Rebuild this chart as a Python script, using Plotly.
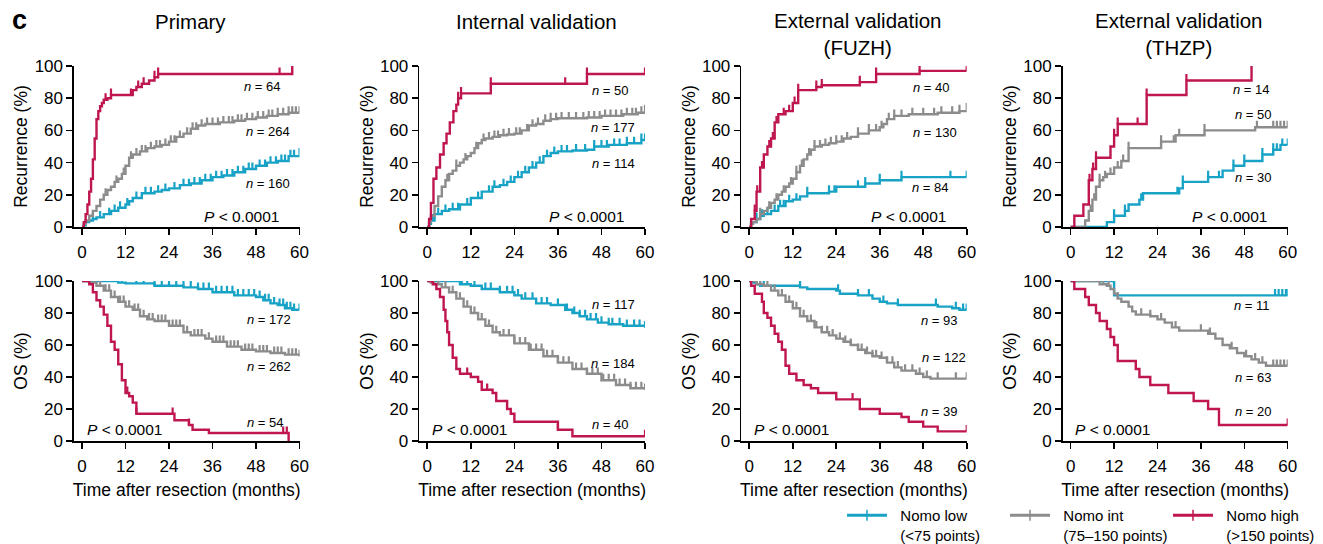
import numpy as np
import plotly.graph_objects as go

# ---------------------------------------------------------------- data
MONTH_TICKS = [0, 12, 24, 36, 48, 60]
PCT_TICKS = [0, 20, 40, 60, 80, 100]
PANEL_TITLES = ["Primary", "Internal validation",
                "External validation<br>(FUZH)", "External validation<br>(THZP)"]
GROUP_NAMES = ["Nomo low<br>(&lt;75 points)", "Nomo int<br>(75\u2013150 points)",
               "Nomo high<br>(&gt;150 points)"]
ROW_TITLES = ["Recurrence (%)", "OS (%)"]
P_TEXT = "<i>P</i> &lt; 0.0001"

# ---- Recurrence, Primary
REC_PRI_LOW_T = [0, 0.5, 1, 2, 3, 4, 6, 8, 10, 12, 13, 14, 16.5, 20, 22, 24, 27, 30, 33, 36, 39, 42, 45, 48, 51, 54, 57, 60]
REC_PRI_LOW_Y = [0, 1, 3, 4, 5, 6, 8, 10, 12, 14, 16, 18, 21, 22, 23, 24, 26, 27, 29, 31, 32, 34, 36, 38, 40, 41, 44, 45]
REC_PRI_LOW_C = [3, 5, 7.5, 9, 10.5, 12.5, 15, 17.5, 19, 21, 23, 25.5, 28, 29.5, 31, 32.5, 34, 35.5, 37, 38.5, 40,
                 41.5, 43, 44.5, 46, 47, 49, 50.5, 52, 53.5, 55, 56, 57.5, 58.5, 60]
REC_PRI_INT_T = [0, 0.5, 1, 2, 3, 4, 5, 6, 7, 8, 9, 10, 11, 12, 13, 14, 16, 18, 20, 22, 24, 26, 28, 30, 32, 34, 38, 42, 45, 48, 51, 54, 57, 60]
REC_PRI_INT_Y = [0, 2, 4, 7, 10, 13, 17, 20, 23, 25, 28, 30, 33, 38, 43, 45, 47, 49, 50, 51, 53, 56, 58, 61, 63, 64, 65, 66, 67, 68, 69, 70, 71, 71]
REC_PRI_INT_C = [6.5, 9.5, 11.5, 13.5, 15, 16.5, 17.5, 19, 20.5, 21.5, 23, 24.5, 25.5, 27, 29, 30.5, 31.5, 33, 34.5,
                 36, 37.5, 39, 40.5, 41.5, 43, 44, 45.5, 47, 48.5, 50, 51.5, 52.5, 54, 55.5, 57, 58, 59, 60]
REC_PRI_HIGH_T = [0, 0.5, 1, 1.5, 2, 2.5, 3, 3.5, 4, 4.5, 5, 5.5, 6, 7, 8, 14, 15, 16.5, 18.5, 20, 21, 58]
REC_PRI_HIGH_Y = [0, 3, 8, 14, 22, 30, 42, 55, 67, 72, 75, 77, 79, 80, 82, 85, 87, 89, 91, 93, 95, 100]
REC_PRI_HIGH_C = [6.5, 8, 13.5, 15.5, 17, 20, 21, 54.5, 58]

# ---- Recurrence, Internal validation
REC_INT_LOW_T = [0, 0.5, 1, 2, 4, 6, 9, 12, 15, 18, 20, 22, 24, 26, 28, 30, 32, 34, 36, 40, 44, 46, 50, 55, 59, 60]
REC_INT_LOW_Y = [0, 2, 4, 8, 10, 11, 14, 18, 22, 25, 26, 28, 31, 34, 37, 40, 44, 46, 47, 47.5, 48, 50, 51, 52, 54, 54]
REC_INT_LOW_C = [1.5, 3, 5, 7, 8.5, 11, 14, 17, 18.5, 21, 23, 25, 27, 29, 31, 33, 35, 37, 38.5, 41, 43.5, 46, 48,
                 49.5, 51.5, 53, 55, 57, 59, 60]
REC_INT_INT_T = [0, 0.5, 1, 2, 3, 4, 5, 6, 7, 8, 9, 10, 11, 12, 13, 14, 15, 16, 18, 20, 22, 24, 26, 28, 30, 32, 34, 36, 44, 48, 54, 58, 60]
REC_INT_INT_Y = [0, 3, 7, 13, 19, 25, 29, 33, 35, 38, 40, 42, 44, 46, 49, 52, 54, 55, 56, 57, 57.5, 58, 60, 63, 64, 66, 67, 67.5, 68, 69, 70, 71, 72]
REC_INT_INT_C = [5.5, 8, 10.5, 13.5, 15.5, 17, 18.5, 19.5, 21, 22.5, 24.5, 25.5, 27.5, 29, 30.5, 32.5, 34, 35.5, 37,
                 39, 41, 43, 44.5, 46, 47.5, 49, 50.5, 52, 53.5, 55, 56.5, 57.5, 59, 60]
REC_INT_HIGH_T = [0, 0.5, 1, 1.7, 2.5, 3.5, 4.5, 5.3, 6.2, 7.2, 8, 8.5, 9.3, 17.5, 44, 60]
REC_INT_HIGH_Y = [0, 5, 15, 30, 37, 45, 52, 58, 65, 72, 76, 80, 83, 89, 95, 95]
REC_INT_HIGH_C = [8.5, 9.3, 17.5, 38, 44, 60]

# ---- Recurrence, External validation (FUZH)
REC_FUZ_LOW_T = [0, 0.5, 1, 2, 3, 4, 6, 8, 10, 12, 14, 16, 22, 24, 32, 36, 42, 60]
REC_FUZ_LOW_Y = [0, 2, 3, 5, 7, 8, 10, 13, 16, 17, 19, 21, 22, 25, 27, 29, 31, 31]
REC_FUZ_LOW_C = [2, 3.5, 5, 7, 8.5, 9.5, 11, 13, 16, 22, 23.5, 30, 32, 36, 42, 55.5, 60]
REC_FUZ_INT_T = [0, 0.5, 1, 2, 3, 4, 5, 6, 7, 8, 9, 10, 11, 12, 13, 14, 15, 16, 17, 18, 20, 22, 24, 26, 28, 30, 33, 36, 37, 38, 40, 44, 52, 58, 60]
REC_FUZ_INT_Y = [0, 2, 3, 5, 8, 10, 12, 15, 17, 20, 22, 25, 27, 30, 34, 38, 42, 45, 48, 50, 51, 52, 53, 55, 56, 58, 60, 62, 64, 67, 69, 70, 71, 72, 73]
REC_FUZ_INT_C = [3, 5.5, 7.5, 9.5, 11.5, 13, 14.5, 16.5, 18, 19.5, 21, 22.5, 24, 25.5, 27, 30, 33, 35, 36.5, 38.5,
                 40, 42, 45, 48, 51, 53, 56, 58, 60]
REC_FUZ_HIGH_T = [0, 0.5, 1.5, 2, 3, 4, 5, 6, 7, 8, 10, 12, 13.5, 18.5, 20, 30.5, 35, 47, 60]
REC_FUZ_HIGH_Y = [0, 5, 10, 22, 37, 45, 50, 55, 65, 70, 72, 77, 85, 87, 88, 90, 95, 97, 97]
REC_FUZ_HIGH_C = [1.5, 2.2, 3.5, 5.5, 6.5, 7.5, 9.5, 11, 12.5, 13.5, 18.5, 20, 30.5, 35, 47, 60]

# ---- Recurrence, External validation (THZP)
REC_THZ_LOW_T = [0, 10, 12, 15, 16, 19, 20, 30, 31, 38, 42, 45, 48, 53, 56, 58, 60]
REC_THZ_LOW_Y = [0, 3, 7, 10, 14, 17, 21, 24, 28, 31, 35, 38, 41, 45, 48, 51, 51]
REC_THZ_LOW_C = [12, 15, 19.5, 29.5, 31, 38, 41, 45, 48, 53, 56, 57, 58.5, 60]
REC_THZ_INT_T = [0, 4, 5, 6, 7, 8, 9, 10, 12, 14, 16, 25, 29, 37, 51, 60]
REC_THZ_INT_Y = [0, 4, 10, 17, 25, 29, 31, 33, 37, 41, 49, 53, 57, 60, 62, 62]
REC_THZ_INT_C = [5.5, 6.5, 8, 9.5, 11, 13, 14.5, 16, 25, 28.5, 30, 37, 51.5, 56, 57, 58, 59, 60]
REC_THZ_HIGH_T = [0, 1, 3.5, 5, 6, 7, 11, 12, 13, 21, 32, 50]
REC_THZ_HIGH_Y = [0, 7, 14, 29, 36, 43, 50, 57, 64, 82, 91, 100]
REC_THZ_HIGH_C = [5.2, 6.2, 7, 12, 13, 18.5, 21, 32, 50]

# ---- OS, Primary
OS_PRI_LOW_T = [0, 10, 12, 20, 28, 32, 36, 42, 48, 50, 52, 54, 56, 58, 60]
OS_PRI_LOW_Y = [100, 99, 98.5, 97, 96, 95, 93, 91, 90, 88, 86, 85, 83, 82, 82]
OS_PRI_LOW_C = [1, 2, 3, 4, 6, 8, 11, 15, 17, 20, 22, 24, 26, 28, 30, 32, 33.5, 35, 37, 38.5, 40, 41.5, 43, 44.5,
                46, 47.5, 49, 50.5, 51.5, 53, 54.5, 55.5, 56.5, 57.5, 58.5, 60]
OS_PRI_INT_T = [0, 2, 4, 6, 8, 10, 12, 14, 16, 18, 20, 24, 28, 30, 34, 36, 40, 44, 48, 52, 56, 60]
OS_PRI_INT_Y = [100, 99, 97, 94, 90, 87, 84, 82, 78, 76, 75, 72, 68, 66, 64, 62, 59, 57, 56, 55, 54, 53]
OS_PRI_INT_C = [1, 1.5, 2.5, 3.5, 5, 6.5, 7.5, 9, 10.5, 11.5, 13, 14.5, 15.5, 17, 18.5, 19.5, 21, 22, 23, 25, 26,
                27, 29, 31, 32, 33, 35, 37, 38, 39, 41, 42, 43, 45, 46, 47, 49, 50, 51, 53, 54, 55, 57, 58, 59, 60]
OS_PRI_HIGH_T = [0, 2, 3, 4, 5, 6, 7, 8, 9, 10, 11, 12, 13, 14, 15, 25.5, 29.5, 30.5, 35, 57]
OS_PRI_HIGH_Y = [100, 98, 93, 88, 84, 79, 72, 62, 57, 48, 38, 30, 28, 24, 17, 13, 10, 7, 5, 0]
OS_PRI_HIGH_C = [12.5, 15, 25, 29.5, 55.5, 56.5]

# ---- OS, Internal validation
OS_INT_LOW_T = [0, 9, 12, 15, 20, 24, 26, 30, 34, 38, 40, 42, 44, 47, 50, 54, 60]
OS_INT_LOW_Y = [100, 98, 97, 95, 93, 91, 89, 86, 85, 82, 80, 78, 76, 74, 73, 72, 71]
OS_INT_LOW_C = [4.5, 8.5, 9.5, 11, 13, 16, 17.5, 20, 22, 23.5, 25, 27, 29, 31.5, 33, 36, 38.5, 40.5, 42, 43.5, 45,
                46.5, 48, 50, 51, 53, 55, 57, 58.5, 60]
OS_INT_INT_T = [0, 1, 2, 4, 6, 8, 10, 12, 14, 16, 18, 20, 24, 28, 32, 36, 40, 44, 48, 52, 56, 60]
OS_INT_INT_Y = [100, 99, 98, 96, 93, 89, 84, 80, 76, 72, 68, 66, 61, 57, 53, 49, 45, 42, 38, 35, 33, 32]
OS_INT_INT_C = [0.5, 1, 1.5, 3, 5, 7, 9, 11, 13, 15, 17, 19, 21, 22.5, 24, 25.5, 27, 28.5, 30, 31.5, 33, 34.5, 36,
                37.5, 39, 41, 42.5, 44, 45.5, 47, 48.5, 50, 51.5, 53, 54.5, 56, 57.5, 59, 60]
OS_INT_HIGH_T = [0, 1.5, 2.5, 3.5, 4.5, 5, 5.5, 6, 7, 8, 9, 12, 14, 15, 18, 19, 22, 23, 24, 36, 40, 60]
OS_INT_HIGH_Y = [100, 98, 95, 90, 82, 75, 68, 60, 52, 45, 42, 40, 37, 32, 30, 25, 20, 17, 12, 7, 3, 3]
OS_INT_HIGH_C = [11, 16.5, 36, 60]

# ---- OS, External validation (FUZH)
OS_FUZ_LOW_T = [0, 1, 2, 3, 14, 16, 24, 25, 30, 34, 36, 38, 41, 52, 56, 58, 60]
OS_FUZ_LOW_Y = [100, 99, 98, 97, 96, 95, 94, 92, 91, 89, 87, 86, 85, 84, 83, 82, 82]
OS_FUZ_LOW_C = [1, 2, 3, 4, 14, 24.5, 30, 33, 37, 41, 51.5, 57, 59, 60]
OS_FUZ_INT_T = [0, 2, 4, 6, 8, 10, 12, 14, 16, 18, 20, 22, 24, 26, 28, 30, 32, 34, 36, 38, 40, 42, 46, 48, 50, 60]
OS_FUZ_INT_Y = [100, 98, 97, 94, 91, 87, 83, 78, 75, 71, 68, 66, 64, 62, 60, 57, 55, 53, 52, 49, 46, 44, 42, 40, 39, 39]
OS_FUZ_INT_C = [1, 2, 3, 5, 7, 9, 11, 13, 15, 17, 18.5, 20, 21.5, 23, 25, 26.5, 28, 30, 31, 32.5, 34, 35, 36.5,
                38, 39.5, 41, 43, 45, 47, 49, 52, 57, 60]
OS_FUZ_HIGH_T = [0, 0.5, 1.5, 3.5, 4, 5, 6, 7, 8, 9, 10, 11, 13, 15, 17, 19, 24, 30.5, 36, 42, 44, 48, 52, 60]
OS_FUZ_HIGH_Y = [100, 97, 92, 87, 80, 77, 72, 67, 62, 57, 47, 42, 38, 35, 33, 30, 26, 20, 17, 15, 12, 9, 6, 6]
OS_FUZ_HIGH_C = [28.5, 60]

# ---- OS, External validation (THZP)
OS_THZ_LOW_T = [0, 12, 60]
OS_THZ_LOW_Y = [100, 91, 91]
OS_THZ_LOW_C = [56.5, 57.5, 58.5, 59.5, 60]
OS_THZ_INT_T = [0, 8, 10, 11, 12, 13, 14, 16, 17, 18, 22, 24, 26, 28, 30, 38, 40, 42, 44, 46, 48, 50, 52, 54, 60]
OS_THZ_INT_Y = [100, 98, 97, 95, 92, 89, 87, 84, 81, 79, 78, 76, 74, 71, 69, 67, 64, 60, 58, 55, 53, 51, 49, 47, 47]
OS_THZ_INT_C = [6.5, 7.5, 9, 10.5, 13, 19.5, 22, 25, 29, 36, 38.5, 44.5, 48.5, 51, 53, 56, 57, 58, 59, 60]
OS_THZ_HIGH_T = [0, 1, 4, 5, 7, 8, 10, 11, 12, 13, 18, 19, 22, 27, 34, 38, 41, 60]
OS_THZ_HIGH_Y = [100, 95, 90, 85, 80, 75, 70, 65, 60, 50, 45, 40, 35, 30, 25, 20, 10, 10]
OS_THZ_HIGH_C = [60]

REC_N = [[160, 264, 64], [114, 177, 50], [84, 130, 40], [30, 50, 14]]
OS_N = [[172, 262, 54], [117, 184, 40], [93, 122, 39], [11, 63, 20]]

CURVES = [
    [  # recurrence row
        [(REC_PRI_LOW_T, REC_PRI_LOW_Y, REC_PRI_LOW_C), (REC_PRI_INT_T, REC_PRI_INT_Y, REC_PRI_INT_C),
         (REC_PRI_HIGH_T, REC_PRI_HIGH_Y, REC_PRI_HIGH_C)],
        [(REC_INT_LOW_T, REC_INT_LOW_Y, REC_INT_LOW_C), (REC_INT_INT_T, REC_INT_INT_Y, REC_INT_INT_C),
         (REC_INT_HIGH_T, REC_INT_HIGH_Y, REC_INT_HIGH_C)],
        [(REC_FUZ_LOW_T, REC_FUZ_LOW_Y, REC_FUZ_LOW_C), (REC_FUZ_INT_T, REC_FUZ_INT_Y, REC_FUZ_INT_C),
         (REC_FUZ_HIGH_T, REC_FUZ_HIGH_Y, REC_FUZ_HIGH_C)],
        [(REC_THZ_LOW_T, REC_THZ_LOW_Y, REC_THZ_LOW_C), (REC_THZ_INT_T, REC_THZ_INT_Y, REC_THZ_INT_C),
         (REC_THZ_HIGH_T, REC_THZ_HIGH_Y, REC_THZ_HIGH_C)],
    ],
    [  # OS row
        [(OS_PRI_LOW_T, OS_PRI_LOW_Y, OS_PRI_LOW_C), (OS_PRI_INT_T, OS_PRI_INT_Y, OS_PRI_INT_C),
         (OS_PRI_HIGH_T, OS_PRI_HIGH_Y, OS_PRI_HIGH_C)],
        [(OS_INT_LOW_T, OS_INT_LOW_Y, OS_INT_LOW_C), (OS_INT_INT_T, OS_INT_INT_Y, OS_INT_INT_C),
         (OS_INT_HIGH_T, OS_INT_HIGH_Y, OS_INT_HIGH_C)],
        [(OS_FUZ_LOW_T, OS_FUZ_LOW_Y, OS_FUZ_LOW_C), (OS_FUZ_INT_T, OS_FUZ_INT_Y, OS_FUZ_INT_C),
         (OS_FUZ_HIGH_T, OS_FUZ_HIGH_Y, OS_FUZ_HIGH_C)],
        [(OS_THZ_LOW_T, OS_THZ_LOW_Y, OS_THZ_LOW_C), (OS_THZ_INT_T, OS_THZ_INT_Y, OS_THZ_INT_C),
         (OS_THZ_HIGH_T, OS_THZ_HIGH_Y, OS_THZ_HIGH_C)],
    ],
]
N_LABELS = [REC_N, OS_N]

# ---------------------------------------------------------------- layout / style
W, H = 1323, 544
COLORS = ["#18A3C6", "#8C8C8C", "#BF1650"]
FONT = "Arial, Liberation Sans, sans-serif"
X0_PX = [82, 427.3, 749.3, 1070.7]        # pixel of month 0
X60_PX = [299.5, 645, 966.7, 1287.7]      # pixel of month 60
AXIS_GAP_PX = 8                            # y-axis line sits left of month 0
ROW_PX = [(66, 227), (281, 441)]           # (top=100%, bottom=0%)
# n-label positions (month, %) per row / panel / group
N_POS = [
    [[(51.2, 27), (51.2, 59.6), (49.8, 87)], [(51.3, 39.4), (51.3, 61.6), (50.4, 85)],
     [(49.9, 24.5), (51.2, 58.5), (50.3, 86.7)], [(50.5, 30.7), (50.5, 69.9), (50.0, 85.7)]],
    [[(51.5, 76), (51.5, 46.5), (50.5, 11.5)], [(51.3, 85.6), (51.3, 48.5), (50.4, 10.6)],
     [(52.6, 75.6), (53.6, 52.3), (52.6, 18.3)], [(50.0, 85), (50.5, 39.6), (50.5, 18.3)]],
]
P_POS = [(44.0, 6.8), (11.6, 6.9)]
TICK_UP = 4.0  # censor tick length in % units
NB = "&nbsp;&nbsp;"


def step_at(t_list, y_list, t):
    idx = np.searchsorted(np.asarray(t_list, float), t, side="right") - 1
    return float(np.asarray(y_list, float)[max(idx, 0)])


fig = go.Figure()
layout = dict(
    template="none",
    width=W, height=H, margin=dict(l=0, r=0, t=0, b=0, autoexpand=False),
    paper_bgcolor="white", plot_bgcolor="white",
    font=dict(family=FONT, color="black", size=17),
    showlegend=True,
)
annotations = []

for r in range(2):
    for p in range(4):
        k = r * 4 + p + 1
        xa = "xaxis" if k == 1 else f"xaxis{k}"
        ya = "yaxis" if k == 1 else f"yaxis{k}"
        xr = "x" if k == 1 else f"x{k}"
        yr = "y" if k == 1 else f"y{k}"
        pxm = (X60_PX[p] - X0_PX[p]) / 60.0
        left_px = X0_PX[p] - AXIS_GAP_PX
        top, bot = ROW_PX[r]
        layout[xa] = dict(
            domain=[left_px / W, X60_PX[p] / W], anchor=yr, automargin=False,
            range=[-AXIS_GAP_PX / pxm, 60], tickvals=MONTH_TICKS,
            showline=True, linecolor="black", linewidth=1.6,
            ticks="outside", ticklen=6, tickwidth=1.6, tickcolor="black",
            showgrid=False, zeroline=False, tickfont=dict(size=17), ticklabelstandoff=3,
            title=dict(text="Time after resection (months)" if r == 1 else "",
                       font=dict(size=17.5), standoff=9),
        )
        layout[ya] = dict(
            domain=[(H - bot) / H, (H - top) / H], anchor=xr, automargin=False,
            range=[0, 100], tickvals=PCT_TICKS,
            showline=True, linecolor="black", linewidth=1.6,
            ticks="outside", ticklen=6, tickwidth=1.6, tickcolor="black",
            showgrid=False, zeroline=False, tickfont=dict(size=17),
            title=dict(text=ROW_TITLES[r], font=dict(size=17.5), standoff=2),
        )
        for g in range(3):
            t_list, y_list, c_list = CURVES[r][p][g]
            fig.add_trace(go.Scatter(
                x=t_list, y=y_list, mode="lines", line=dict(color=COLORS[g], width=2.4, shape="hv"),
                xaxis=xr, yaxis=yr, showlegend=False, hoverinfo="skip", cliponaxis=False))
            cy = [step_at(t_list, y_list, c) for c in c_list]
            fig.add_trace(go.Scatter(
                x=c_list, y=cy, mode="markers", marker=dict(size=0.1, color=COLORS[g]),
                error_y=dict(type="data", symmetric=False, array=[TICK_UP] * len(c_list),
                             arrayminus=[0] * len(c_list), color=COLORS[g], thickness=2.2, width=0),
                xaxis=xr, yaxis=yr, showlegend=False, hoverinfo="skip", cliponaxis=False))
            nx, ny = N_POS[r][p][g]
            annotations.append(dict(
                x=nx, y=ny, xref=xr, yref=yr, text=f"<i>n</i> = {N_LABELS[r][p][g]}",
                showarrow=False, font=dict(size=13), xanchor="center", yanchor="middle"))
        annotations.append(dict(
            x=P_POS[r][0], y=P_POS[r][1], xref=xr, yref=yr, text=P_TEXT,
            showarrow=False, font=dict(size=15.5), xanchor="center", yanchor="middle"))
        if r == 0:
            two_line = "<br>" in PANEL_TITLES[p]
            annotations.append(dict(
                x=30, xref=xr, y=(H - (34 if two_line else 22)) / H, yref="paper",
                text=PANEL_TITLES[p], showarrow=False, font=dict(size=20.5),
                xanchor="center", yanchor="middle"))

annotations.append(dict(x=10 / W, y=(H - 20) / H, xref="paper", yref="paper", text="<b>c</b>",
                        showarrow=False, font=dict(size=27), xanchor="left", yanchor="middle"))

# legend entries
for g in range(3):
    fig.add_trace(go.Scatter(
        x=[None], y=[None], mode="lines+markers",
        name=NB + GROUP_NAMES[g].replace("<br>", "<br>" + NB),
        line=dict(color=COLORS[g], width=3),
        marker=dict(symbol="line-ns", size=8, line=dict(width=1.5, color=COLORS[g])),
        xaxis="x8", yaxis="y8", showlegend=True))

layout["legend"] = dict(
    orientation="h", x=842 / W, xanchor="left", y=(H - 499) / H, yanchor="top",
    font=dict(size=15), itemwidth=40, valign="top",
    entrywidth=108, entrywidthmode="pixels", tracegroupgap=0,
    bgcolor="rgba(0,0,0,0)", itemclick=False,
)
layout["annotations"] = annotations
fig.update_layout(**layout)
fig.write_html("out.html", config={"displayModeBar": False, "staticPlot": True},
               post_script="document.body.style.margin='0';document.body.style.padding='0';")
